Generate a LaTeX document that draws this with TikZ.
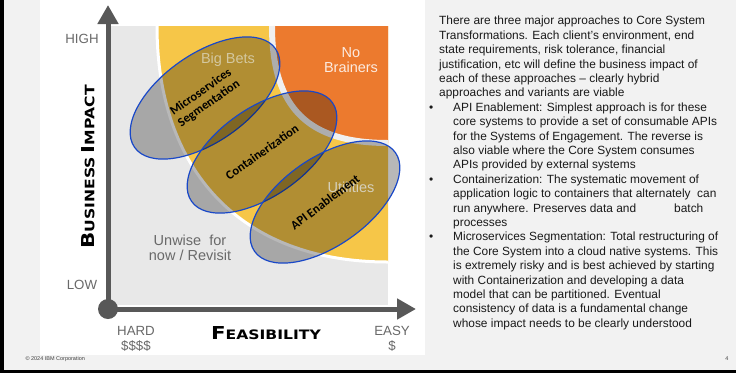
\documentclass[tikz,border=0pt]{standalone}
\usepackage{fontspec}
\setmainfont{Liberation Sans}
\newfontfamily\calfont{Carlito}
\newfontfamily\capfont[FakeStretch=1.2]{DejaVu Sans}
\usepackage{tikz}
\usetikzlibrary{arrows.meta,shapes,positioning,calc}

\definecolor{slidebg}{RGB}{242,242,242}
\definecolor{plotbg}{RGB}{232,232,232}
\definecolor{bigbets}{RGB}{246,198,72}
\definecolor{brainers}{RGB}{236,122,46}
\definecolor{axisgray}{RGB}{88,88,88}
\definecolor{ringblue}{RGB}{25,72,200}
\definecolor{labelgray}{RGB}{105,105,105}

\newcommand{\notebullet}{\makebox[24pt][l]{\textbullet}}
\newcommand{\noteindent}{\hspace*{24pt}}

\begin{document}
\begin{tikzpicture}[x=1pt,y=-1pt,
font=\fontsize{11.9}{14.4}\selectfont]

\tikzstyle{approach}=[ellipse, draw=ringblue, line width=1.2pt,
fill=black, fill opacity=0.28, minimum width=172pt, minimum height=88pt,
inner sep=0pt]
\tikzstyle{approach text}=[font=\calfont\bfseries\fontsize{12.5}{14}\selectfont,
align=center, text=black]
\tikzstyle{region}=[font=\fontsize{14.5}{15.5}\selectfont, align=center,
inner sep=0pt]
\tikzstyle{axislabel}=[font=\fontsize{13.3}{15}\selectfont, align=center,
text=labelgray, inner sep=0pt]
\tikzstyle{axistitle}=[font=\capfont\bfseries, text=black, inner sep=0pt]
\tikzstyle{axis}=[axisgray, line width=5pt, -{Triangle[width=20pt,length=19pt]}]

\useasboundingbox (0,0) rectangle (736,373);

%slide and picture background
\fill[slidebg] (0,0) rectangle (736,373);
\fill[white] (40,0) rectangle (425,355);
\fill[plotbg] (108,26) rectangle (388,305);

%big bets band
\fill[bigbets] (157,26) -- (388,26) -- (388,262)
  .. controls (240,262) and (157,170) .. (157,26) -- cycle;
\draw[white, line width=3pt] (157,26)
  .. controls (157,170) and (240,262) .. (388,262);

%no brainers corner
\fill[brainers] (272,26) -- (388,26) -- (388,143)
  .. controls (310,143) and (272,110) .. (272,26) -- cycle;
\draw[white!88!gray, line width=6pt] (272,26)
  .. controls (272,110) and (310,143) .. (388,143);

%approaches
\node[approach, rotate=35] (micro) at (205,98) {};
\node[approach, rotate=35] (cont) at (262,152) {};
\node[approach, rotate=35] (api) at (325,202) {};

%quadrant names
\node[region, text=white!85!brainers] (nobrain) at (351,60) {No\\Brainers};
\node[region, text={rgb,255:red,212;green,200;blue,160}] (bigbet) at (228,60) {Big Bets};
\node[region, text={rgb,255:red,214;green,208;blue,188}] (util) at (351,187) {Utilities};
\node[region, text=labelgray] (unwise) at (190,248) {Unwise\ \ for\\now / Revisit};

\node[approach text, rotate=35] (microtext) at (micro.center) {Microservices\\Segmentation};
\node[approach text, rotate=35] (conttext) at (cont.center) {Containerization};
\node[approach text, rotate=37] (apitext) at (api.center) {API Enablement};

%axes
\node[circle, fill=axisgray, minimum size=20pt, inner sep=0pt] (origin) at (108,309) {};
\coordinate (ytip) at (108,5);
\coordinate (xtip) at (416,309);
\draw[axis] (origin.center) -- (ytip);
\draw[axis] (origin.center) -- (xtip);

\node[axislabel] (high) at (82,39) {HIGH};
\node[axislabel] (low) at (82,285) {LOW};
\node[axislabel] (hard) at (136,339) {HARD\\\$\$\$\$};
\node[axislabel] (easy) at (392,339) {EASY\\\$};

\node[axistitle] (feas) at (266,333)
  {{\fontsize{17.8}{18}\selectfont F}{\fontsize{13}{13}\selectfont EASIBILITY}};
\node[axistitle, rotate=90] (impact) at (88,167)
  {{\fontsize{17.8}{18}\selectfont B}{\fontsize{13}{13}\selectfont USINESS}
   {\fontsize{17.8}{18}\selectfont I}{\fontsize{13}{13}\selectfont MPACT}};

%notes
\node[anchor=north west, align=left, inner sep=0pt, text=black!90] (notes) at (429,16)
{\hspace*{10pt}There are three major approaches to Core System\\
\hspace*{10pt}Transformations. Each client’s environment, end\\
\hspace*{10pt}state requirements, risk tolerance, financial\\
\hspace*{10pt}justification, etc will define the business impact of\\
\hspace*{10pt}each of these approaches – clearly hybrid\\
\hspace*{10pt}approaches and variants are viable\\
\notebullet API Enablement: Simplest approach is for these\\
\noteindent core systems to provide a set of consumable APIs\\
\noteindent for the Systems of Engagement. The reverse is\\
\noteindent also viable where the Core System consumes\\
\noteindent APIs provided by external systems\\
\notebullet Containerization: The systematic movement of\\
\noteindent application logic to containers that alternately\ \ can\\
\noteindent run anywhere. Preserves data and\hspace{38pt}batch\\
\noteindent processes\\
\notebullet Microservices Segmentation: Total restructuring of\\
\noteindent the Core System into a cloud native systems. This\\
\noteindent is extremely risky and is best achieved by starting\\
\noteindent with Containerization and developing a data\\
\noteindent model that can be partitioned. Eventual\\
\noteindent consistency of data is a fundamental change\\
\noteindent whose impact needs to be clearly understood};

%footer
\node[anchor=west, font=\fontsize{5.5}{6}\selectfont, text=black!75] (copy) at (22,359)
  {\textcopyright{} 2024 IBM Corporation};
\node[font=\fontsize{5.5}{6}\selectfont, text=black!75] (pgno) at (727,359) {4};

%frame
\fill[black] (0,0) rectangle (3.5,373);
\fill[black] (0,369.5) rectangle (736,373);

\end{tikzpicture}
\end{document}
